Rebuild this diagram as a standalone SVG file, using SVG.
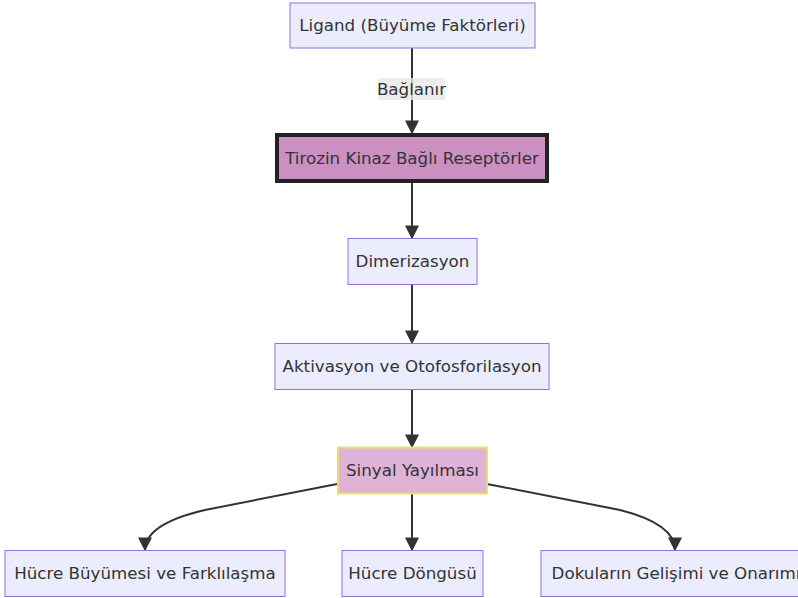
<svg xmlns="http://www.w3.org/2000/svg" width="798" height="598" viewBox="0 0 798 598">
<defs>
<style>
text{font-family:"DejaVu Sans",sans-serif;font-size:16.7px;fill:#333;text-anchor:middle;dominant-baseline:central}
.n{fill:#ECECFF;stroke:#9370DB;stroke-width:1}
.e{fill:none;stroke:#333;stroke-width:2}
</style>
<marker id="ah" viewBox="0 0 10 10" refX="9" refY="5" markerWidth="14" markerHeight="14" markerUnits="userSpaceOnUse" orient="auto">
<path d="M0,0 L10,5 L0,10 z" fill="#333"/>
</marker>
</defs>
<rect width="798" height="598" fill="#fff"/>
<g id="edges">
<path class="e" d="M412,48 V133" marker-end="url(#ah)"/>
<path class="e" d="M412,183 V238" marker-end="url(#ah)"/>
<path class="e" d="M412,285 V343" marker-end="url(#ah)"/>
<path class="e" d="M412,390 V447" marker-end="url(#ah)"/>
<path class="e" d="M412,494 V550" marker-end="url(#ah)"/>
<path class="e" d="M337,484 L205,510 Q145,524 145,550" marker-end="url(#ah)"/>
<path class="e" d="M487,484 L620,510 Q675,524 675,550" marker-end="url(#ah)"/>
<rect x="378" y="78" width="67" height="22" fill="#e8e8e8" opacity="0.8"/>
<text x="411.5" y="89">Bağlanır</text>
</g>
<g id="ligand"><rect class="n" x="290" y="3" width="245" height="45"/><text x="412.5" y="25">Ligand (Büyüme Faktörleri)</text></g>
<g id="rtk"><rect x="277" y="135" width="270" height="46" fill="#cc8fc1" stroke="#222" stroke-width="4"/><text x="412" y="157.5">Tirozin Kinaz Bağlı Reseptörler</text></g>
<g id="dimer"><rect class="n" x="348" y="238.5" width="129" height="46"/><text x="412.5" y="261">Dimerizasyon</text></g>
<g id="aktiv"><rect class="n" x="275" y="343.5" width="274" height="46"/><text x="412" y="366">Aktivasyon ve Otofosforilasyon</text></g>
<g id="sinyal"><rect x="338" y="447.5" width="149" height="46" fill="#dfb2d7" stroke="#e8e070" stroke-width="2"/><text x="412.5" y="470">Sinyal Yayılması</text></g>
<g id="buyume"><rect class="n" x="5" y="550.5" width="280" height="46"/><text x="145" y="573">Hücre Büyümesi ve Farklılaşma</text></g>
<g id="dongu"><rect class="n" x="342" y="550.5" width="141" height="46"/><text x="412.5" y="573">Hücre Döngüsü</text></g>
<g id="doku"><rect class="n" x="541" y="550.5" width="270" height="46"/><text x="676" y="573">Dokuların Gelişimi ve Onarımı</text></g>
</svg>
